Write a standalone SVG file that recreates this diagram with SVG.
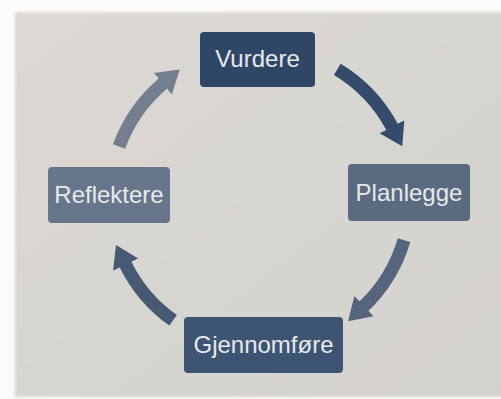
<svg xmlns="http://www.w3.org/2000/svg" width="501" height="399" viewBox="0 0 501 399">
  <defs>
    <style>
      .box { stroke: none; }
      .label { font-family: "Liberation Sans", Arial, sans-serif; font-size: 24px; fill: #e7e9ed; text-anchor: middle; }
      .arc { fill: none; stroke-width: 13; stroke-linecap: butt; }
    </style>
    <linearGradient id="paper" x1="0" y1="0" x2="1" y2="1">
      <stop offset="0" stop-color="#dcd9d4"/>
      <stop offset="1" stop-color="#d3d1cc"/>
    </linearGradient>
    <filter id="soft" x="-5%" y="-5%" width="110%" height="110%">
      <feGaussianBlur stdDeviation="1.6"/>
    </filter>
    <marker id="head1" viewBox="0 -15 24 30" refX="1" refY="0" markerWidth="24" markerHeight="30" markerUnits="userSpaceOnUse" orient="auto">
      <path d="M0,-14 L22,0 L0,14 Z" fill="#354b6b"/>
    </marker>
    <marker id="head2" viewBox="0 -15 24 30" refX="1" refY="0" markerWidth="24" markerHeight="30" markerUnits="userSpaceOnUse" orient="auto">
      <path d="M0,-14 L22,0 L0,14 Z" fill="#55667c"/>
    </marker>
    <marker id="head3" viewBox="0 -15 24 30" refX="1" refY="0" markerWidth="24" markerHeight="30" markerUnits="userSpaceOnUse" orient="auto">
      <path d="M0,-14 L22,0 L0,14 Z" fill="#475a74"/>
    </marker>
    <marker id="head4" viewBox="0 -15 24 30" refX="1" refY="0" markerWidth="24" markerHeight="30" markerUnits="userSpaceOnUse" orient="auto">
      <path d="M0,-14 L22,0 L0,14 Z" fill="#737f8e"/>
    </marker>
  </defs>

  <!-- white margin and paper sheet -->
  <rect x="0" y="0" width="501" height="399" fill="#fbfbfa"/>
  <rect x="15" y="12" width="500" height="385" fill="url(#paper)" filter="url(#soft)"/>

  <!-- cycle arrows (arcs around centre 260,198, r = 150) -->
  <g id="connectors">
    <path class="arc" stroke="#354b6b" marker-end="url(#head1)" d="M337.3,69.4 A150,150 0 0 1 392.4,127.6"/>
    <path class="arc" stroke="#55667c" marker-end="url(#head2)" d="M404.0,240.1 A150,150 0 0 1 363.3,306.8"/>
    <path class="arc" stroke="#475a74" marker-end="url(#head3)" d="M173.1,320.3 A150,150 0 0 1 125.2,263.8"/>
    <path class="arc" stroke="#737f8e" marker-end="url(#head4)" d="M119.1,146.4 A150,150 0 0 1 163.6,83.1"/>
  </g>

  <g id="vurdere">
    <rect class="box" x="200" y="32" width="115" height="55" rx="4" fill="#2f4667"/>
    <text class="label" x="257.5" y="67">Vurdere</text>
  </g>

  <g id="planlegge">
    <rect class="box" x="348" y="164" width="122" height="57" rx="4" fill="#5a6b80"/>
    <text class="label" x="409" y="201">Planlegge</text>
  </g>

  <g id="gjennomfore">
    <rect class="box" x="184" y="317" width="159" height="56" rx="4" fill="#3d5473"/>
    <text class="label" x="263.5" y="353">Gjennomføre</text>
  </g>

  <g id="reflektere">
    <rect class="box" x="48" y="167" width="122" height="56" rx="4" fill="#67768a"/>
    <text class="label" x="109" y="203">Reflektere</text>
  </g>
</svg>
